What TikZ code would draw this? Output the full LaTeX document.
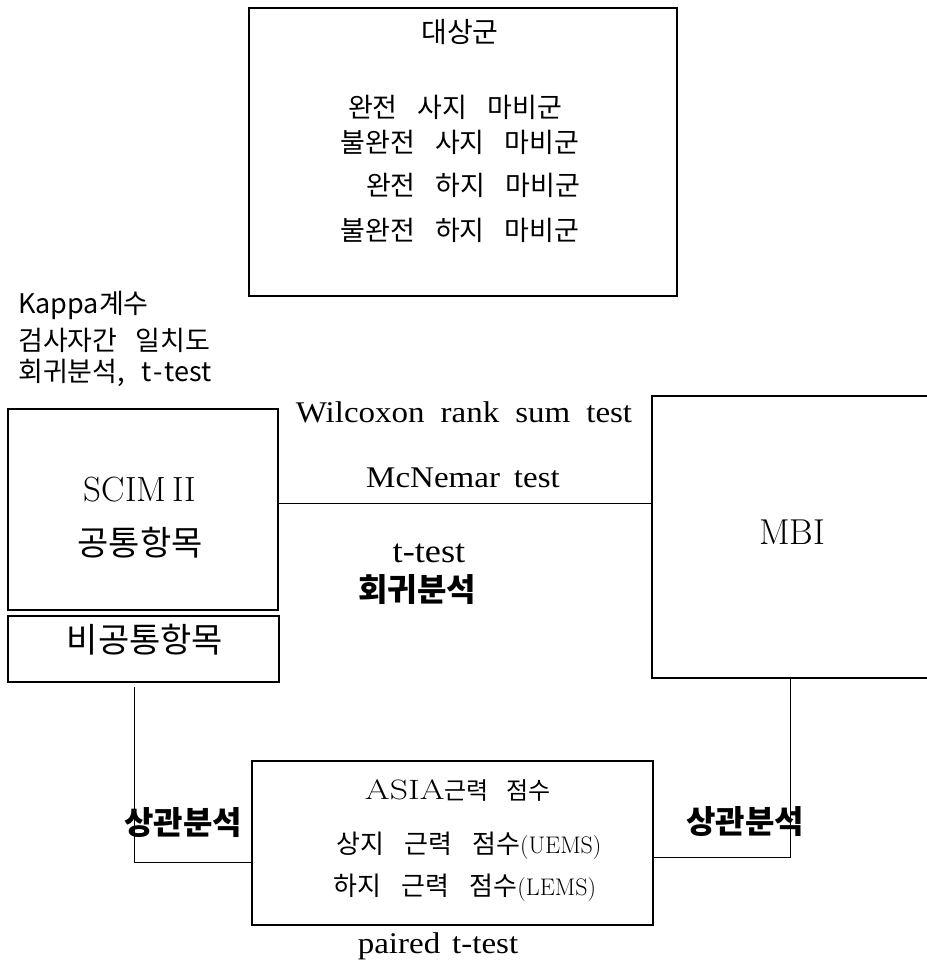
\documentclass[tikz,border=0pt]{standalone}
\usepackage{fontspec}
\setmainfont{Latin Modern Roman}
\newfontfamily\kr{Noto Sans CJK KR}
\newfontfamily\tms[FakeStretch=1.1]{Liberation Serif}
\newfontfamily\lmwide[FakeStretch=1.28]{Latin Modern Roman}
\newcommand{\gap}[1]{\hspace{#1pt}}
\begin{document}
\begin{tikzpicture}[x=1pt,y=-1pt,
  box/.style={draw, line width=1.1pt, inner sep=0pt},
  conn/.style={draw, line width=0.9pt},
  lbl/.style={inner sep=0pt, font=\kr\fontsize{27}{30}\selectfont},
  blbl/.style={inner sep=0pt, font=\kr\bfseries\fontsize{32}{34}\selectfont},
  slbl/.style={inner sep=0pt, anchor=west, font=\kr\fontsize{27}{30}\selectfont},
  tlbl/.style={inner sep=0pt, font=\tms\fontsize{30}{32}\selectfont}]
\useasboundingbox (0,0) rectangle (926,963);
% boxes
\node[box, minimum width=428pt, minimum height=288pt] (top) at (463,152) {};
\node[box, minimum width=270pt, minimum height=201pt] (scim) at (143,509.5) {};
\node[box, minimum width=271pt, minimum height=66pt] (nonc) at (143.5,649) {};
\node[box, minimum width=280pt, minimum height=282pt] (mbi) at (792,537) {};
\node[box, minimum width=401pt, minimum height=164pt] (asia) at (452.5,843) {};
% top box text
\node[lbl, font=\kr\fontsize{28}{30}\selectfont] (t0) at (460,32) {대상군};
\node[lbl] (t1) at (455,107) {완전\gap{20}사지\gap{20}마비군};
\node[lbl] (t2) at (460,142) {불완전\gap{20}사지\gap{20}마비군};
\node[lbl] (t3) at (473,185) {완전\gap{20}하지\gap{20}마비군};
\node[lbl] (t4) at (460,230) {불완전\gap{20}하지\gap{20}마비군};
% left stats text
\node[slbl] (k1) at (18,305) {Kappa계수};
\node[slbl] (k2) at (18,340) {검사자간\gap{18}일치도};
\node[slbl] (k3) at (18,373) {회귀분석,\gap{16}t{\kern2pt}-{\kern2pt}test};
% SCIM box text
\node[inner sep=0pt, font=\fontsize{35}{37}\selectfont] (s1) at (140,490) {SCIM\,II};
\node[lbl, font=\kr\fontsize{34}{36}\selectfont] (s2) at (140,543) {공통항목};
\node[lbl, font=\kr\fontsize{34}{36}\selectfont] (s3) at (145,640) {비공통항목};
% MBI
\node[inner sep=0pt, font=\fontsize{36}{38}\selectfont] (m1) at (792,532) {MBI};
% middle text
\node[tlbl] (w1) at (464,412) {Wilcoxon\gap{16}rank\gap{16}sum\gap{16}test};
\node[tlbl] (w2) at (463,478) {McNemar\gap{14}test};
\node[tlbl, font=\tms\fontsize{33}{34}\selectfont] (w3) at (429,553) {t-test};
\node[blbl] (w4) at (417,590) {회귀분석};
% ASIA box text
\node[inner sep=0pt, font=\lmwide\fontsize{28}{30}\selectfont] (a1) at (458,791) {ASIA{\kr\fontsize{24}{26}\selectfont 근력\gap{18}점수}};
\node[inner sep=0pt, font=\fontsize{24}{26}\selectfont] (a2) at (469,846) {{\kr\fontsize{26}{28}\selectfont 상지\gap{20}근력\gap{20}점수}(UEMS)};
\node[inner sep=0pt, font=\fontsize{24}{26}\selectfont] (a3) at (465,888) {{\kr\fontsize{26}{28}\selectfont 하지\gap{20}근력\gap{20}점수}(LEMS)};
\node[tlbl] (p1) at (438,946) {paired\gap{12}t-test};
% correlation labels
\node[blbl] (c1) at (183,823) {상관분석};
\node[blbl] (c2) at (745,822) {상관분석};
% connectors
\draw[conn] (scim.east |- 0,503) -- (mbi.west |- 0,503);
\coordinate (lt) at (134,687);
\draw[conn] (lt) |- (asia.west |- 0,862);
\draw[conn] (mbi.south -| 790,0) |- (asia.east |- 0,857);
\end{tikzpicture}
\end{document}
